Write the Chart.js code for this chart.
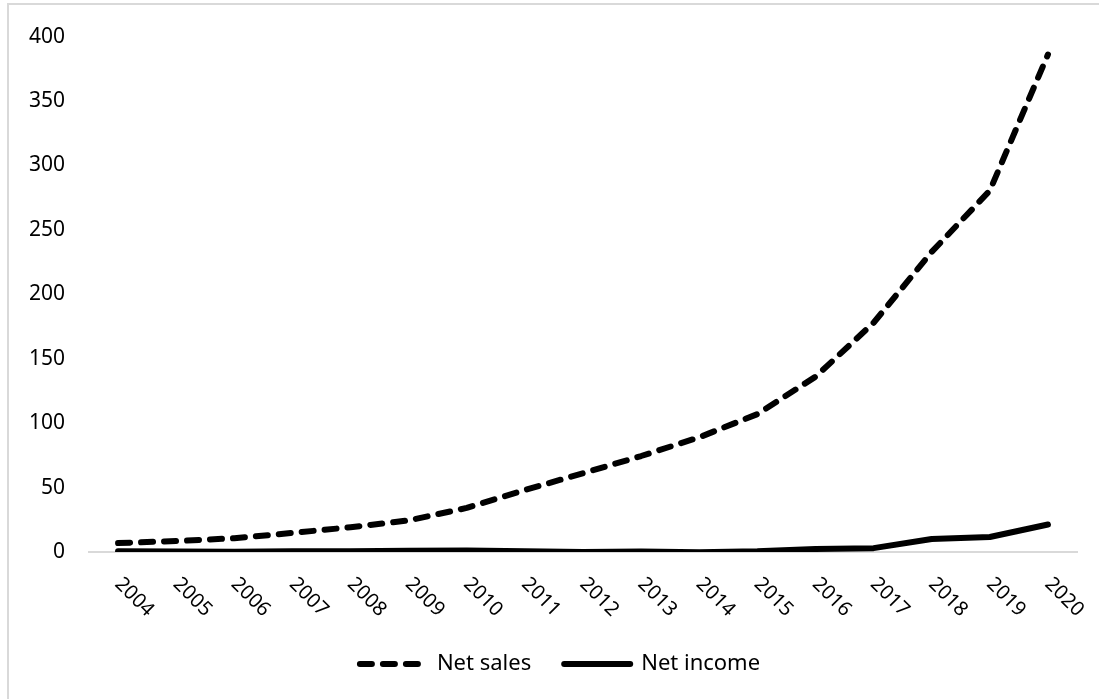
<!DOCTYPE html>
<html lang="en">
<head>
    <meta charset="UTF-8">
    <title>Net sales and net income</title>
    <script src="https://cdn.jsdelivr.net/npm/chart.js"></script>
    <style>
        html, body { margin: 0; padding: 0; background: #fff; }
        #frame {
            position: absolute; left: 7px; top: 3px; width: 1200px; height: 800px;
            border: 2px solid #d9d9d9;
        }
        #wrap { position: absolute; left: 0; top: 0; width: 1099px; height: 699px; }
    </style>
</head>
<body>
    <div id="frame"></div>
    <div id="wrap"><canvas id="lineChart"></canvas></div>

    <script>
        // data (billions)
        const years = ["2004", "2005", "2006", "2007", "2008", "2009", "2010", "2011", "2012",
                       "2013", "2014", "2015", "2016", "2017", "2018", "2019", "2020"];
        const netSales = [6.9, 8.5, 10.7, 14.8, 19.2, 24.5, 34.2, 48.1, 61.1,
                          74.5, 89.0, 107.0, 136.0, 177.9, 232.9, 280.5, 386.1];
        const netIncome = [0.6, 0.4, 0.2, 0.5, 0.6, 0.9, 1.2, 0.6, 0.0,
                           0.3, -0.2, 0.6, 2.4, 3.0, 10.1, 11.6, 21.3];
        const yTicks = [0, 50, 100, 150, 200, 250, 300, 350, 400];

        const dash = [12, 11];

        // x labels go down to the right, which chart.js can't do by itself
        const slantedLabels = {
            id: 'slantedLabels',
            afterLayout(chart) {
                // legend in the original is centred a bit right of the page centre
                chart.legend.left = 43;
            },
            afterDraw(chart) {
                const xs = chart.scales.x;
                const ctx = chart.ctx;
                ctx.save();
                ctx.font = '20px "Noto Sans"';
                ctx.fillStyle = '#000';
                ctx.textAlign = 'left';
                ctx.textBaseline = 'middle';
                xs.ticks.forEach((t, i) => {
                    ctx.save();
                    ctx.translate(xs.getPixelForTick(i), xs.top + 29);
                    ctx.rotate(Math.PI / 4);
                    ctx.fillText(years[i], 0, 0);
                    ctx.restore();
                });
                ctx.restore();
            }
        };

        const ctx = document.getElementById('lineChart').getContext('2d');
        new Chart(ctx, {
            type: 'line',
            data: {
                labels: years,
                datasets: [
                    {
                        label: 'Net sales',
                        data: netSales,
                        borderColor: '#000',
                        backgroundColor: '#000',
                        borderWidth: 6,
                        borderDash: dash,
                        borderCapStyle: 'round',
                        borderJoinStyle: 'round',
                        pointRadius: 0,
                        tension: 0
                    },
                    {
                        label: 'Net income',
                        data: netIncome,
                        borderColor: '#000',
                        backgroundColor: '#000',
                        borderWidth: 6,
                        borderCapStyle: 'round',
                        borderJoinStyle: 'round',
                        pointRadius: 0,
                        tension: 0
                    }
                ]
            },
            options: {
                responsive: true,
                maintainAspectRatio: false,
                animation: false,
                layout: { padding: { left: 0, right: 22, top: 35, bottom: 14 } },
                scales: {
                    x: {
                        offset: true,
                        grid: { display: false, drawTicks: false },
                        border: { display: true, color: '#d9d9d9', width: 2 },
                        ticks: { display: false },
                        afterFit(scale) { scale.height = 68; }
                    },
                    y: {
                        min: 0,
                        max: 400,
                        afterBuildTicks(scale) { scale.ticks = yTicks.map(v => ({ value: v })); },
                        grid: { display: false, drawTicks: false },
                        border: { display: false },
                        ticks: {
                            padding: 24,
                            color: '#000',
                            font: { family: 'Noto Sans', size: 21 }
                        },
                        afterFit(scale) { scale.width = 89; }
                    }
                },
                plugins: {
                    tooltip: { enabled: false },
                    legend: {
                        position: 'bottom',
                        maxHeight: 80,
                        labels: {
                            usePointStyle: true,
                            pointStyle: 'line',
                            pointStyleWidth: 66,
                            padding: 33,
                            color: '#000',
                            font: { family: 'Noto Sans', size: 22 },
                            generateLabels(chart) {
                                return chart.data.datasets.map((ds, i) => ({
                                    text: ds.label,
                                    datasetIndex: i,
                                    fillStyle: '#000',
                                    strokeStyle: '#000',
                                    fontColor: '#000',
                                    lineWidth: 6,
                                    lineCap: 'round',
                                    lineDash: ds.borderDash || [],
                                    pointStyle: 'line',
                                    hidden: false
                                }));
                            }
                        }
                    }
                }
            },
            plugins: [slantedLabels]
        });
    </script>
</body>
</html>
